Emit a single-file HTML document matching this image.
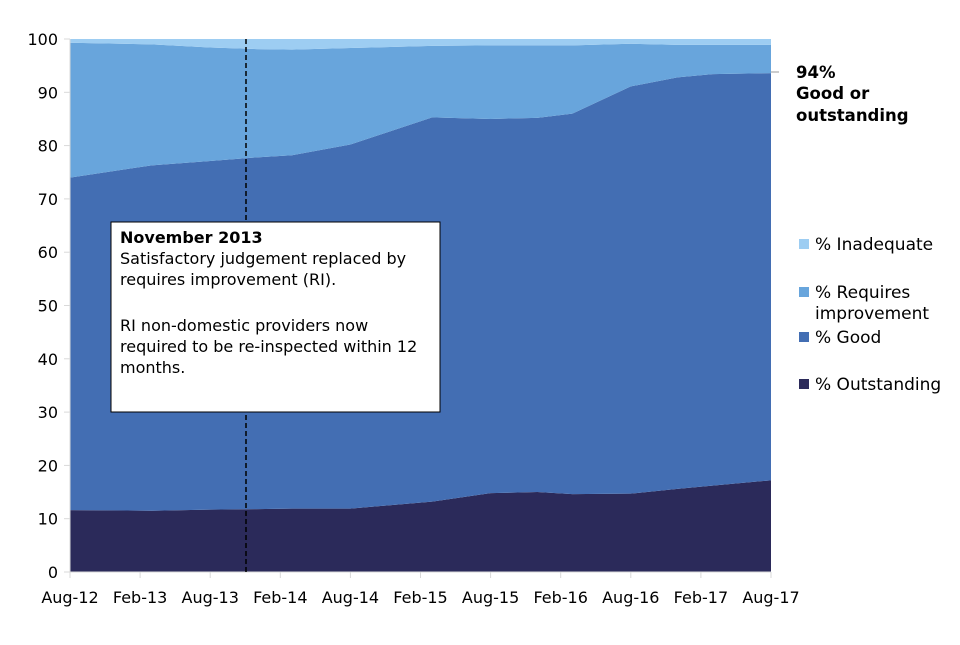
<!DOCTYPE html>
<html><head><meta charset="utf-8"><style>
body{margin:0;background:#fff;}
svg text{font-family:"DejaVu Sans","Liberation Sans",sans-serif;fill:#000;}
</style></head><body>
<svg id="chart" width="960" height="640">
<g id="areas"></g>
<g id="axes"></g>
<line x1="246" y1="39" x2="246" y2="572" stroke="#000" stroke-width="1.5" stroke-dasharray="5,3"/>
<g>
<rect x="111" y="222" width="329" height="190" fill="#fff" stroke="#000" stroke-width="1"/>
<text x="120" y="243" font-size="16" font-weight="bold">November 2013</text>
<text x="120" y="264" font-size="16">Satisfactory judgement replaced by</text>
<text x="120" y="285" font-size="16">requires improvement (RI).</text>
<text x="120" y="331" font-size="16">RI non-domestic providers now</text>
<text x="120" y="352" font-size="16">required to be re-inspected within 12</text>
<text x="120" y="373" font-size="16">months.</text>
</g>
<line x1="771" y1="72" x2="779" y2="72" stroke="#999"/>
<g font-weight="bold" font-size="16.5">
<text x="796" y="78">94%</text>
<text x="796" y="99">Good or</text>
<text x="796" y="121">outstanding</text>
</g>
<g id="legend"></g>
</svg>
<script>
const months = [0,7,12,16,19,24,31,36,40,43,48,52,55,60];
const outstanding = [11.6,11.5,11.7,11.8,11.9,11.9,13.2,14.8,15.0,14.6,14.7,15.6,16.2,17.2];
const good = [62.4,64.8,65.4,66.0,66.3,68.3,72.1,70.2,70.2,71.4,76.4,77.2,77.2,76.4];
const requiresImprovement = [25.3,22.7,21.3,20.3,19.8,18.1,13.4,13.8,13.6,12.8,8.0,6.1,5.5,5.3];
const inadequate = [0.7,1.0,1.6,1.9,2.0,1.7,1.3,1.2,1.2,1.2,0.9,1.1,1.1,1.1];
const xLabels = ["Aug-12","Feb-13","Aug-13","Feb-14","Aug-14","Feb-15","Aug-15","Feb-16","Aug-16","Feb-17","Aug-17"];
const yTicks = [0,10,20,30,40,50,60,70,80,90,100];

const X0=70,X1=771,Y0=572,Y1=39,NS='http://www.w3.org/2000/svg';
const xs=m=>X0+(X1-X0)*m/60;
const ys=v=>Y0-(Y0-Y1)*v/100;
function mk(t,a,p){const e=document.createElementNS(NS,t);for(const k in a)e.setAttribute(k,a[k]);p.appendChild(e);return e;}
const series=[
 {name:'outstanding',vals:outstanding,color:'#2b2a5a'},
 {name:'good',vals:good,color:'#436eb3'},
 {name:'requires-improvement',vals:requiresImprovement,color:'#68a5dc'},
 {name:'inadequate',vals:inadequate,color:'#9dcdf2'}];
const areas=document.getElementById('areas');
let base=months.map(()=>0);
series.forEach(s=>{
 const top=base.map((b,i)=>b+s.vals[i]);
 let d=months.map((m,i)=>(i?'L':'M')+xs(m)+','+ys(top[i])).join(' ');
 for(let i=months.length-1;i>=0;i--)d+=' L'+xs(months[i])+','+ys(base[i]);
 const p=mk('path',{d:d+'Z',fill:s.color},areas);
 
 
 base=top;
});
const ax=document.getElementById('axes');
const yl=mk('line',{x1:X0,y1:Y1,x2:X0,y2:Y0,stroke:'#d9d9d9'},ax);


const xl=mk('line',{x1:X0,y1:Y0,x2:X1,y2:Y0,stroke:'#d9d9d9'},ax);


yTicks.forEach(v=>{
 mk('line',{x1:X0-6,y1:ys(v),x2:X0,y2:ys(v),stroke:'#d9d9d9'},ax);
 const t=mk('text',{x:X0-12,y:ys(v)+6,'text-anchor':'end','font-size':16},ax);
 t.textContent=v;
 
 
});
xLabels.forEach((l,i)=>{
 const x=xs(i*6);
 mk('line',{x1:x,y1:Y0,x2:x,y2:Y0+6,stroke:'#d9d9d9'},ax);
 const t=mk('text',{x:x,y:Y0+31,'text-anchor':'middle','font-size':16},ax);
 t.textContent=l;
 
 
});
const lg=document.getElementById('legend');
const entries=[['% Inadequate','',250,'#9dcdf2'],['% Requires','improvement',298,'#68a5dc'],['% Good','',343,'#436eb3'],['% Outstanding','',390,'#2b2a5a']];
entries.forEach(e=>{
 const g=mk('g',{},lg);
 
 
 mk('rect',{x:799,y:e[2]-11,width:10,height:10,fill:e[3]},g);
 const t=mk('text',{x:815,y:e[2],'font-size':17},g);
 t.textContent=e[0];
 if(e[1]){const t2=mk('text',{x:815,y:e[2]+21,'font-size':17},g);t2.textContent=e[1];}
});
</script>
</body></html>
